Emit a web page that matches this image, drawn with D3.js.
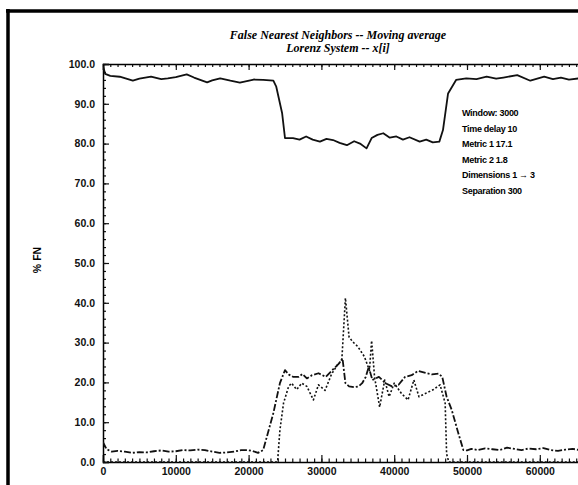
<!DOCTYPE html>
<html>
<head>
<meta charset="utf-8">
<script src="https://cdn.jsdelivr.net/npm/d3@7"></script>
<style>
  body { margin: 0; background: #fff; }
  svg { display: block; }
  .tick text { font-family: "Liberation Sans", Arial, sans-serif; font-weight: bold; font-size: 10.5px; fill: #111; }
</style>
</head>
<body>
<svg id="chart" width="578" height="485"></svg>
<script>
// dimension 1 (solid)
var dim1X = [0, 300, 1000, 2300, 4100, 5000, 6600, 8000, 8900, 10000, 11500, 12500, 14300, 15000, 16100, 17500, 18800, 20700, 22000, 23400, 23800, 24600, 25000, 26100, 27000, 27900, 28800, 29800, 30700, 31600, 32500, 33500, 34500, 35300, 36200, 36900, 37700, 38500, 39400, 40300, 41200, 42100, 43500, 44400, 45300, 46200, 46700, 47400, 48500, 49900, 51300, 52700, 54000, 55000, 56900, 58700, 60600, 61800, 62900, 64000, 65500]
var dim1Y = [99.5, 97.5, 97.0, 96.8, 95.8, 96.3, 96.8, 96.2, 96.4, 96.7, 97.4, 96.6, 95.4, 95.9, 96.4, 95.8, 95.3, 96.1, 96.0, 95.8, 94.3, 87.7, 81.4, 81.4, 81.0, 81.8, 81.0, 80.5, 81.2, 80.9, 80.2, 79.6, 80.6, 80.0, 78.8, 81.4, 82.2, 82.6, 81.5, 81.8, 81.0, 81.6, 80.5, 81.0, 80.3, 80.5, 83.4, 92.6, 96.0, 96.4, 96.2, 96.8, 96.3, 96.6, 97.2, 95.8, 96.8, 96.2, 96.6, 96.1, 96.4]

// dimension 2 (dash-dot)
var dim2X = [0, 500, 1200, 2000, 3000, 4000, 5000, 6000, 7000, 8000, 9000, 10000, 11000, 12000, 13000, 14000, 15000, 16000, 17000, 18000, 19000, 19800, 20500, 21300, 22000, 22500, 23400, 24300, 25000, 25500, 26100, 26900, 27400, 28000, 28700, 29600, 30600, 31500, 32400, 32900, 33300, 33800, 34500, 35100, 35600, 36100, 36500, 37000, 37900, 38800, 39700, 40600, 41500, 42400, 43300, 44300, 45200, 46100, 46600, 47200, 47900, 48800, 49500, 50000, 50600, 51500, 52500, 53500, 54500, 55500, 56500, 57500, 58500, 59500, 60500, 61500, 62500, 63500, 64500, 65500]
var dim2Y = [5.0, 3.2, 2.6, 2.8, 2.6, 2.3, 2.5, 2.4, 2.7, 2.9, 2.6, 2.7, 3.0, 2.9, 3.1, 3.0, 2.6, 2.3, 2.4, 2.6, 3.0, 3.0, 2.8, 2.3, 3.0, 6.3, 12.3, 19.8, 23.1, 22.0, 21.4, 21.4, 22.1, 21.0, 21.8, 22.3, 21.4, 23.1, 24.7, 26.0, 19.8, 19.0, 18.8, 19.0, 19.8, 21.4, 23.9, 20.6, 21.4, 19.8, 19.0, 19.4, 21.4, 21.8, 22.9, 22.4, 22.0, 22.2, 21.4, 16.4, 13.1, 7.3, 3.0, 2.9, 3.3, 3.0, 3.4, 3.2, 3.0, 3.6, 3.3, 3.0, 3.4, 3.2, 3.5, 3.0, 2.8, 3.1, 3.3, 3.0]

// dimension 3 (dotted)
var dim3X = [0, 23900, 24000, 24300, 24800, 25500, 25900, 26600, 27300, 28000, 28900, 29600, 30500, 31400, 32300, 32800, 33300, 33800, 34300, 35000, 35900, 36600, 36900, 37300, 38000, 38700, 39300, 40000, 41000, 41900, 42700, 43400, 44600, 45400, 46300, 47000, 47200, 47500, 65500]
var dim3Y = [0, 0, 0.5, 8, 14.8, 19.0, 19.8, 18.2, 19.8, 19.0, 15.6, 19.4, 18.0, 22.1, 24.7, 25.5, 41.2, 31.4, 30.2, 29.0, 26.5, 23.0, 30.5, 21.4, 13.8, 20.6, 16.4, 19.8, 17.2, 15.6, 20.6, 16.4, 17.5, 18.2, 19.4, 14.8, 2, 0, 0]

var xTicks = [0, 10000, 20000, 30000, 40000, 50000, 60000]
var yTicks = [0, 10, 20, 30, 40, 50, 60, 70, 80, 90, 100]

var titleLines = ["False Nearest Neighbors -- Moving average", "Lorenz System -- x[i]"]
var notes = ["Window: 3000", "Time delay 10", "Metric 1 17.1", "Metric 2 1.8", "Dimensions 1 -> 3", "Separation 300"]

var svg = d3.select("#chart")
var plotLeft = 103, plotTop = 64, plotBottom = 462

var x = d3.scaleLinear().domain([0, 65500]).range([plotLeft, plotLeft + 65500 * 0.00728])
var y = d3.scaleLinear().domain([0, 100]).range([plotBottom, plotTop])

// scanned page frame
svg.append("line").attr("x1", 8).attr("x2", 8).attr("y1", 9).attr("y2", 485)
    .attr("stroke", "#000").attr("stroke-width", 3.5)
svg.append("line").attr("x1", 6).attr("x2", 578).attr("y1", 11).attr("y2", 11)
    .attr("stroke", "#000").attr("stroke-width", 3.5)

// title
svg.selectAll(".title").data(titleLines).enter().append("text")
    .attr("class", "title")
    .attr("x", 338).attr("y", (d, i) => 39 + i * 13)
    .attr("text-anchor", "middle")
    .style("font-family", "'Liberation Serif', 'Times New Roman', serif")
    .style("font-style", "italic").style("font-weight", "bold")
    .style("font-size", "12px")
    .text(d => d)

// axes
var minorX = d3.range(0, 65501, 1000)
var minorY = d3.range(0, 101, 2)

svg.append("g").attr("transform", `translate(0,${plotBottom})`)
    .call(d3.axisBottom(x).tickValues(minorX).tickSize(-3.5).tickFormat(""))
    .call(g => g.select(".domain").remove())
svg.append("g").attr("transform", `translate(0,${plotBottom})`)
    .call(d3.axisBottom(x).tickValues(xTicks).tickSize(-7).tickPadding(4).tickFormat(d3.format("d")))
    .call(g => g.select(".domain").attr("stroke-width", 1.5))
    .call(g => g.selectAll(".tick text").attr("dy", "0.9em"))

svg.append("g").attr("transform", `translate(0,${plotTop})`)
    .call(d3.axisTop(x).tickValues(minorX).tickSize(-3).tickFormat(""))
    .call(g => g.select(".domain").remove())
svg.append("g").attr("transform", `translate(0,${plotTop})`)
    .call(d3.axisTop(x).tickValues(xTicks).tickSize(-6).tickFormat(""))
    .call(g => g.select(".domain").attr("stroke-width", 1.5))

svg.append("g").attr("transform", `translate(${plotLeft},0)`)
    .call(d3.axisLeft(y).tickValues(minorY).tickSize(-3).tickFormat(""))
    .call(g => g.select(".domain").remove())
svg.append("g").attr("transform", `translate(${plotLeft},0)`)
    .call(d3.axisLeft(y).tickValues(yTicks).tickSize(-6).tickPadding(8).tickFormat(d3.format(".1f")))
    .call(g => g.select(".domain").attr("stroke-width", 1.5))

svg.selectAll(".tick line").attr("stroke", "#111").attr("stroke-width", 1.2)

// y label
svg.append("text")
    .attr("transform", "translate(41,260) rotate(-90)")
    .attr("text-anchor", "middle")
    .style("font-family", "'Liberation Sans', Arial, sans-serif")
    .style("font-weight", "bold").style("font-size", "10.5px")
    .text("% FN")

// curves
svg.append("clipPath").attr("id", "plot")
    .append("rect").attr("x", plotLeft).attr("y", plotTop - 2).attr("width", 480).attr("height", plotBottom - plotTop + 4)

var line = d3.line().x(d => x(d[0])).y(d => y(d[1]))

var series = [
    { x: dim1X, y: dim1Y, dash: null, w: 1.8 },
    { x: dim2X, y: dim2Y, dash: "7,2,2,2", w: 1.8 },
    { x: dim3X, y: dim3Y, dash: "2,2", w: 1.6 }
]

series.forEach(s => {
    svg.append("path")
        .datum(d3.zip(s.x, s.y))
        .attr("clip-path", "url(#plot)")
        .attr("fill", "none")
        .attr("stroke", "#111")
        .attr("stroke-width", s.w)
        .attr("stroke-linejoin", "round")
        .attr("stroke-dasharray", s.dash)
        .attr("d", line)
})

// notes
svg.selectAll(".note").data(notes).enter().append("text")
    .attr("class", "note")
    .attr("x", 462).attr("y", (d, i) => 116 + i * 15.6)
    .style("font-family", "'Liberation Sans', 'DejaVu Sans', Arial, sans-serif")
    .style("font-weight", "bold").style("font-size", "9px")
    .style("letter-spacing", "-0.3px")
    .text(d => d.replace("->", "\u2192"))
</script>
</body>
</html>
